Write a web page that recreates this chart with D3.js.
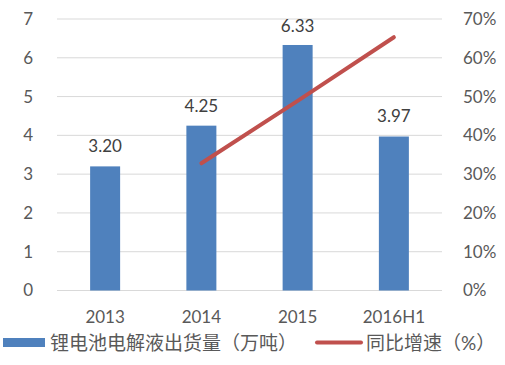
<!DOCTYPE html>
<html><head><meta charset="utf-8">
<script src="https://cdn.jsdelivr.net/npm/d3@7"></script>
<style>body{margin:0;background:#fff;}svg{display:block;font-family:Lato,"Noto Sans CJK SC",sans-serif;}</style>
</head><body><svg id="c" width="505" height="365"></svg>
<script>
const categories = ["2013","2014","2015","2016H1"];
const volume = [3.20, 4.25, 6.33, 3.97];
const growthCats = ["2014","2015","2016H1"];
const growth = [32.8, 48.9, 65.3];
const leftTicks = [0,1,2,3,4,5,6,7];
const rightTicks = [0,10,20,30,40,50,60,70];
const legendLabels = ["锂电池电解液出货量（万吨）","同比增速（%）"];

const svg = d3.select("#c");
const L = 57, R = 442, T = 19, B = 290.5;
const x = d3.scaleBand().domain(categories).range([L, R]);
const y = d3.scaleLinear().domain([0, 7]).range([B, T]);
const y2 = d3.scaleLinear().domain([0, 70]).range([B, T]);
const txt = "#595959";
const fs = 17;

svg.append("g").selectAll("line").data(leftTicks).join("line")
  .attr("x1", L).attr("x2", R).attr("y1", d => y(d)).attr("y2", d => y(d))
  .attr("stroke", "#d9d9d9").attr("stroke-width", 1);

svg.append("g").selectAll("text").data(leftTicks).join("text")
  .attr("x", 33).attr("y", d => y(d)).attr("dy", "0.35em").attr("text-anchor", "end")
  .attr("fill", txt).attr("font-size", fs).text(d => d);

svg.append("g").selectAll("text").data(rightTicks).join("text")
  .attr("x", 463).attr("y", d => y2(d)).attr("dy", "0.35em").attr("text-anchor", "start")
  .attr("fill", txt).attr("font-size", fs).text(d => d + "%");

const bw = 30;
svg.append("g").selectAll("rect").data(volume).join("rect")
  .attr("x", (d, i) => x(categories[i]) + x.bandwidth() / 2 - bw / 2)
  .attr("y", d => y(d)).attr("width", bw).attr("height", d => B - y(d))
  .attr("fill", "#4f81bd");

svg.append("g").selectAll("text").data(volume).join("text")
  .attr("x", (d, i) => x(categories[i]) + x.bandwidth() / 2)
  .attr("y", d => Math.max(y(d) - 20, 26)).attr("dy", "0.35em").attr("text-anchor", "middle")
  .attr("fill", "#404040").attr("font-size", fs).text(d => d.toFixed(2));

const line = d3.line().x((d, i) => x(growthCats[i]) + x.bandwidth() / 2).y(d => y2(d));
svg.append("path").datum(growth).attr("d", line)
  .attr("fill", "none").attr("stroke", "#c0504d").attr("stroke-width", 4).attr("stroke-linecap", "round");

svg.append("g").selectAll("text").data(categories).join("text")
  .attr("x", d => x(d) + x.bandwidth() / 2).attr("y", 317).attr("dy", "0.35em")
  .attr("text-anchor", "middle").attr("fill", txt).attr("font-size", fs).text(d => d);

// legend
svg.append("rect").attr("x", 3).attr("y", 338).attr("width", 42).attr("height", 9).attr("fill", "#4f81bd");
svg.append("text").attr("x", 50).attr("y", 343).attr("dy", "0.35em").attr("fill", txt)
  .attr("font-size", 19).text(legendLabels[0]);
svg.append("line").attr("x1", 317).attr("x2", 361).attr("y1", 342.5).attr("y2", 342.5)
  .attr("stroke", "#c0504d").attr("stroke-width", 4).attr("stroke-linecap", "round");
svg.append("text").attr("x", 366).attr("y", 343).attr("dy", "0.35em").attr("fill", txt)
  .attr("font-size", 19).text(legendLabels[1]);
</script></body></html>
